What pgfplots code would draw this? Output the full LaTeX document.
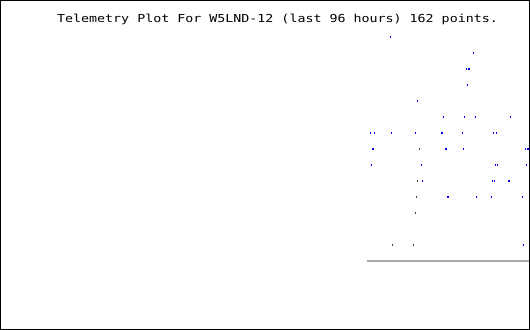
\documentclass[border=0pt]{standalone}
\usepackage{pgfplots}
\pgfplotsset{compat=1.18}
\usepackage{fontspec}
\newfontfamily\titlefont[FakeStretch=1.21]{DejaVu Sans Mono}
\definecolor{dotblue}{HTML}{0000FF}
\definecolor{dotgray}{HTML}{404040}
\definecolor{linegray}{HTML}{A8A8A8}
\begin{document}
\begin{tikzpicture}
\begin{axis}[
  width=529bp, height=329bp, scale only axis,
  xmin=0.5, xmax=529.5, ymin=0.5, ymax=329.5,
  y dir=reverse,
  axis line style={black, line width=1bp},
  ticks=none,
  clip=false,
]
% gray baseline
\addplot[linegray, line width=2bp, mark=none] coordinates {(367,261) (529,261)};
% blue points
\addplot[only marks, mark=|, mark size=1bp, mark options={dotblue, line width=1bp}] coordinates {
(390.5,37)
(473.5,53)
(466.5,69) (468.5,69) (469.5,69)
(467.5,85)
(417.5,101)
(443.5,117) (464.5,117) (475.5,117) (510.5,117)
(370.5,133) (374.5,133) (391.5,133) (415.5,133) (441.5,133) (442.5,133) (462.5,133) (493.5,133) (496.5,133)
(372.5,149) (373.5,149) (445.5,149) (446.5,149) (463.5,149) (525.5,149) (527.5,149) (528.5,149)
(371.5,165) (421.5,165) (495.5,165) (497.5,165) (526.5,165)
(422.5,181) (492.5,181) (494.5,181) (508.5,181) (509.5,181)
(447.5,197) (448.5,197) (476.5,197) (491.5,197) (522.5,197)
(523.5,245)
};
% gray points
\addplot[only marks, mark=|, mark size=1bp, mark options={dotgray, line width=1bp}] coordinates {
(419.5,149) (417.5,181) (416.5,197) (415.5,213) (392.5,245) (413.5,245)
};
\node[anchor=base, inner sep=0pt, font=\titlefont\fontsize{11bp}{13bp}\selectfont] at (axis cs:277.5,23) {Telemetry Plot For W5LND-12 (last 96 hours) 162 points.};
\end{axis}
\end{tikzpicture}
\end{document}
